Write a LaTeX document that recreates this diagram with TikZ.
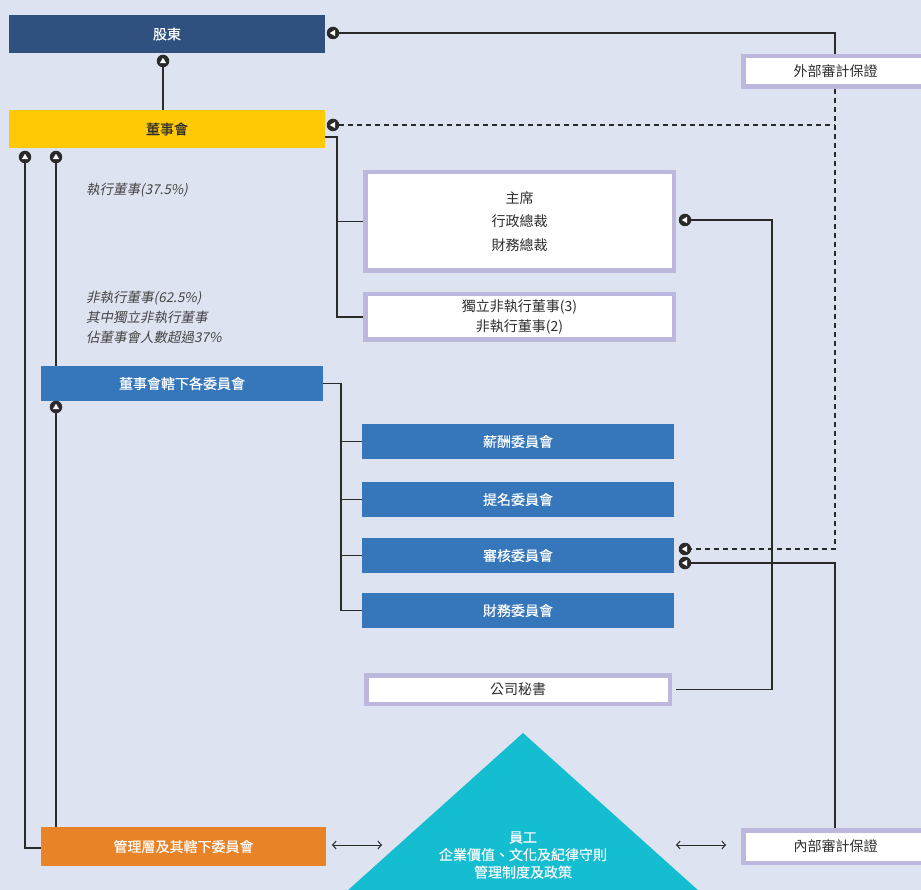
\documentclass[tikz,border=0pt]{standalone}
\usepackage{fontspec}
\setmainfont{Noto Sans CJK TC}
\newfontfamily\slfont{Noto Sans CJK TC}[FakeSlant=0.2]
\newfontfamily\bxfont{Noto Sans CJK TC}[FakeBold=0.25]
\usetikzlibrary{arrows.meta,calc}
\definecolor{bgc}{HTML}{DDE3F1}
\definecolor{shc}{HTML}{30517F}
\definecolor{bdc}{HTML}{FFCA05}
\definecolor{bluc}{HTML}{3677BC}
\definecolor{orc}{HTML}{E88328}
\definecolor{lavc}{HTML}{BCB7DC}
\definecolor{teac}{HTML}{15BDD0}
\definecolor{lnc}{HTML}{2A2A2A}
\definecolor{txc}{HTML}{2E2E2E}
\definecolor{itc}{HTML}{444444}
\begin{document}
\begin{tikzpicture}[x=1pt,y=-1pt,
  fbox/.style={inner sep=0pt, text=white, font=\bxfont\fontsize{14}{17}\selectfont},
  lbox/.style={draw=lavc, line width=4.5pt, fill=white, inner sep=0pt, text=txc, align=center},
  tipup/.style={circle, fill=lnc, minimum size=12.5pt, inner sep=0pt,
    path picture={\fill[white] ($(path picture bounding box.center)+(0,3.2pt)$) -- ++(-3.2pt,-5.4pt) -- ++(6.4pt,0pt) -- cycle;}},
  tipleft/.style={circle, fill=lnc, minimum size=12.5pt, inner sep=0pt,
    path picture={\fill[white] ($(path picture bounding box.center)+(-3.2pt,0)$) -- ++(5.4pt,3.2pt) -- ++(0pt,-6.4pt) -- cycle;}},
  ln/.style={draw=lnc, line width=1.1pt},
  dsh/.style={draw=lnc, line width=1.1pt, dash pattern=on 5pt off 4pt},
  dbl/.style={draw=lnc, line width=1pt, {Straight Barb[length=3.5pt,width=8pt]}-{Straight Barb[length=3.5pt,width=8pt]}},
  itxt/.style={text=itc, font=\slfont\fontsize{13.5}{20}\selectfont, align=left, inner sep=0pt, anchor=west}
]
\useasboundingbox (0,0) rectangle (921,890);
\fill[bgc] (0,0) rectangle (921,890);

% bus coordinates
\coordinate (xE) at (835,0);
\coordinate (xS) at (772,0);
\coordinate (xB) at (337,0);
\coordinate (xC) at (341,0);

% main boxes
\node[fbox, fill=shc, minimum width=316pt, minimum height=38pt] (sh) at (167,34) {股東};
\node[fbox, fill=bdc, text=txc, minimum width=316pt, minimum height=38pt] (bd) at (167,129) {董事會};
\node[lbox, minimum width=184.5pt, minimum height=30.5pt, font=\fontsize{14}{17}\selectfont] (ext) at (835.5,71.5) {外部審計保證};
\node[lbox, minimum width=308.5pt, minimum height=98.5pt, font=\fontsize{14}{23.5}\selectfont] (chair) at (519.5,221.5) {主席\\行政總裁\\財務總裁};
\node[lbox, minimum width=308.5pt, minimum height=45.5pt, font=\fontsize{14}{20}\selectfont] (ined) at (519.5,317) {獨立非執行董事(3)\\非執行董事(2)};
\node[fbox, fill=bluc, minimum width=282pt, minimum height=35pt] (comm) at (182,383.5) {董事會轄下各委員會};
\node[fbox, fill=bluc, minimum width=312pt, minimum height=35pt] (c1) at (518,441.5) {薪酬委員會};
\node[fbox, fill=bluc, minimum width=312pt, minimum height=35pt] (c2) at (518,499.5) {提名委員會};
\node[fbox, fill=bluc, minimum width=312pt, minimum height=35pt] (c3) at (518,555.5) {審核委員會};
\node[fbox, fill=bluc, minimum width=312pt, minimum height=35pt] (c4) at (518,610.5) {財務委員會};
\node[lbox, minimum width=303.5pt, minimum height=28.5pt, font=\fontsize{14}{17}\selectfont] (sec) at (518,689.5) {公司秘書};
\node[fbox, fill=orc, minimum width=285pt, minimum height=39pt] (mgmt) at (183.5,846.5) {管理層及其轄下委員會};
\node[lbox, minimum width=184.5pt, minimum height=32.5pt, font=\fontsize{14}{17}\selectfont] (int) at (835.5,846.5) {內部審計保證};

% triangle
\fill[teac] (523,733) -- (337,900) -- (709,900) -- cycle;
\node[fbox, align=center, font=\bxfont\fontsize{14}{17.5}\selectfont] (emp) at (523,855) {員工\\企業價值、文化及紀律守則\\管理制度及政策};

% italic notes
\node[itxt] (n1) at (86,190) {執行董事(37.5\%)};
\node[itxt] (n2) at (86,317) {非執行董事(62.5\%)\\其中獨立非執行董事\\佔董事會人數超過37\%};

% tips
\node[tipup] (tSh) at (163,61) {};
\node[tipleft] (tSh2) at (333,33) {};
\node[tipleft] (tBd) at (333,125) {};
\node[tipup] (tL1) at (25,157) {};
\node[tipup] (tL2) at (56,157) {};
\node[tipup] (tCm) at (56,407) {};
\node[tipleft] (tCh) at (685,220) {};
\node[tipleft] (tAu1) at (685,549) {};
\node[tipleft] (tAu2) at (685,563) {};

% connectors
\draw[ln] (bd.north -| tSh) -- (tSh.south);
\draw[ln] (ext.north -| xE) |- (tSh2.east);
\draw[dsh] (ext.south -| xE) |- (tAu1.east);
\draw[dsh] (tBd.east) -- (tBd -| xE);
\draw[ln] ([yshift=-8pt]bd.east) -| (xB |- ined.west) -- (ined.west);
\draw[ln] (xB |- chair.west) -- (chair.west);
\draw[ln] (comm.east) -| (xC |- c4.west) -- (c4.west);
\foreach \n in {c1,c2,c3} \draw[ln] (xC |- \n.west) -- (\n.west);
\draw[ln] ([xshift=4pt]sec.east) -| (xS |- tCh) -- (tCh.east);
\draw[ln] (int.north -| xE) |- (tAu2.east);
\draw[ln] (tL1.south) |- ([yshift=-1.5pt]mgmt.west);
\draw[ln] (tL2.south) -- (tL2 |- comm.north);
\draw[ln] (tCm.south) -- (tCm |- mgmt.north);

\coordinate (aL1) at (332,845);
\coordinate (aL2) at (382,845);
\coordinate (aR1) at (676,845);
\coordinate (aR2) at (726,845);
\draw[dbl] (aL1) -- (aL2);
\draw[dbl] (aR1) -- (aR2);
\end{tikzpicture}
\end{document}
